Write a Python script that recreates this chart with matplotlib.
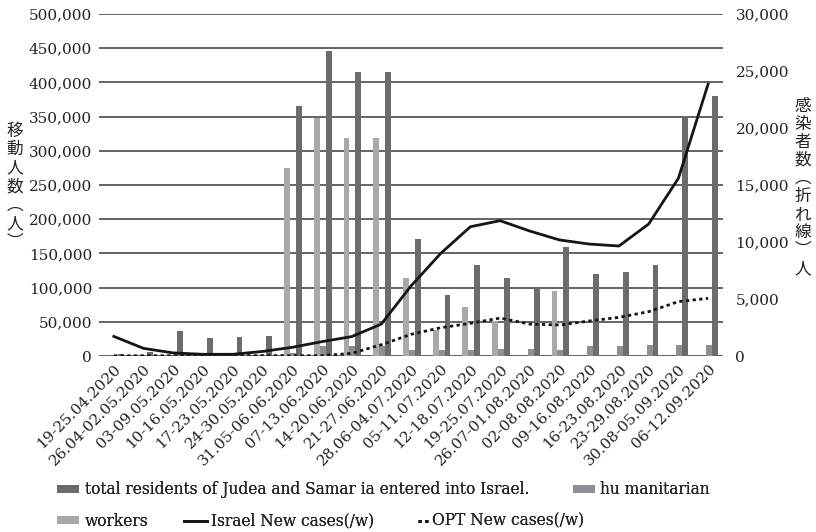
import numpy as np
import matplotlib.pyplot as plt
import matplotlib.transforms as mtransforms
from matplotlib.ticker import FuncFormatter

weeks = ['19-25.04.2020', '26.04-02.05.2020', '03-09.05.2020', '10-16.05.2020',
         '17-23.05.2020', '24-30.05.2020', '31.05-06.06.2020', '07-13.06.2020',
         '14-20.06.2020', '21-27.06.2020', '28.06-04.07.2020', '05-11.07.2020',
         '12-18.07.2020', '19-25.07.2020', '26.07-01.08.2020', '02-08.08.2020',
         '09-16.08.2020', '16-23.08.2020', '23-29.08.2020', '30.08-05.09.2020',
         '06-12.09.2020']

# people crossing (left axis)
total = [3000, 6000, 36500, 26800, 28300, 29700, 365500, 445900, 415600, 415600,
         171000, 89200, 133000, 114500, 99900, 159400, 119900, 122800, 133000,
         348400, 380100]
workers = [0, 0, 0, 0, 0, 0, 274900, 348400, 319200, 319200,
           114500, 38500, 72100, 51000, 0, 95000, 0, 0, 0, 0, 0]
humanitarian = [0, 0, 0, 0, 0, 0, 5000, 15000, 15000, 15000,
                8800, 8800, 8800, 10000, 10000, 9000, 14600, 14600, 16000,
                16000, 16000]

# weekly new cases (right axis)
israel_cases = [1720, 670, 270, 150, 150, 400, 760, 1260, 1700, 2800, 6140, 9000,
                11340, 11870, 10960, 10180, 9820, 9650, 11580, 15590, 23860]
opt_cases = [20, 25, 30, 30, 35, 40, 30, 30, 230, 990, 1900, 2480, 2870, 3330,
             2800, 2720, 3070, 3390, 3890, 4770, 5060]

serif = 'DejaVu Serif'
cjk = ['Noto Sans CJK JP', 'DejaVu Sans']
txt = '#222222'

fig = plt.figure(figsize=(8.16, 5.32), dpi=100)
ax = fig.add_axes([0.1213, 0.3308, 0.7647, 0.6429])

x = np.arange(len(weeks))
w = 0.2
shift = 0.03
c_total = '#6b6b70'
c_work = '#a9a9ac'
c_hum = '#8f8f93'

b_work = ax.bar(x - w + shift, workers, w, color=c_work, zorder=3)
b_hum = ax.bar(x + shift, humanitarian, w, color=c_hum, zorder=3)
b_total = ax.bar(x + w + shift, total, w, color=c_total, zorder=3)

ax.set_xlim(-0.5, len(weeks) - 0.5)
ax.set_ylim(0, 500000)
ax.set_yticks(np.arange(0, 500001, 50000))
ax.yaxis.set_major_formatter(FuncFormatter(lambda v, p: f'{int(v):,}'))
ax.grid(axis='y', color='#4a4a4a', lw=1.2, zorder=0)
ax.set_axisbelow(True)
for s in ax.spines.values():
    s.set_visible(False)
ax.tick_params(length=0, labelsize=11, pad=5)
for lab in ax.get_yticklabels():
    lab.set_fontfamily(serif)
    lab.set_color(txt)

ax.set_xticks(x)
ax.set_xticklabels(weeks, rotation=45, ha='right', va='center',
                   rotation_mode='anchor', fontsize=11, family=serif, color=txt)
ax.tick_params(axis='x', pad=8)
# nudge the slanted dates a little to the right
nudge = mtransforms.ScaledTranslation(5 / 100, 0, fig.dpi_scale_trans)
for lab in ax.get_xticklabels():
    lab.set_transform(lab.get_transform() + nudge)

ax2 = ax.twinx()
ax2.set_ylim(0, 30000)
ax2.set_yticks(np.arange(0, 30001, 5000))
ax2.yaxis.set_major_formatter(FuncFormatter(lambda v, p: f'{int(v):,}'))
for s in ax2.spines.values():
    s.set_visible(False)
ax2.tick_params(length=0, labelsize=11, pad=9)
for lab in ax2.get_yticklabels():
    lab.set_fontfamily(serif)
    lab.set_color(txt)

l_isr, = ax2.plot(x, israel_cases, color='#151515', lw=2.0, zorder=5)
l_opt, = ax2.plot(x, opt_cases, color='#151515', lw=2.0, ls=(0, (1.2, 1.2)), zorder=5)

# vertical axis titles
fig.text(0.018, 0.649, '移\n動\n人\n数\n︵\n人\n︶', family=cjk, fontsize=12,
         ha='center', va='center', linespacing=1.12, color=txt)
fig.text(0.984, 0.648, '感\n染\n者\n数\n︵\n折\nれ\n線\n︶\n人', family=cjk, fontsize=12,
         ha='center', va='center', linespacing=1.08, color=txt)

# legend entries placed one by one, like the original layout
fs = 11.2
em = fs * 100 / 72


def add_entry(handle, label, x0, y0, swatch_px, gap_px):
    leg = fig.legend([handle], [label], loc='center left',
                     bbox_to_anchor=(x0 / 816, 1 - y0 / 532),
                     frameon=False, handlelength=swatch_px / em, handleheight=0.35,
                     handletextpad=gap_px / em, borderpad=0, borderaxespad=0,
                     prop={'family': serif, 'size': fs})
    leg.get_texts()[0].set_color(txt)
    fig.add_artist(leg)


add_entry(b_total, 'total residents of Judea and Samar ia entered into Israel.', 57, 490, 22, 6)
add_entry(b_hum, 'hu manitarian', 573, 490, 22, 5)
add_entry(b_work, 'workers', 57, 521, 22, 6)
add_entry(l_isr, 'Israel New cases(/w)', 184, 521, 23, 4)
add_entry(l_opt, 'OPT New cases(/w)', 418, 521, 12, 2)

fig.savefig('out.png', dpi=100)
